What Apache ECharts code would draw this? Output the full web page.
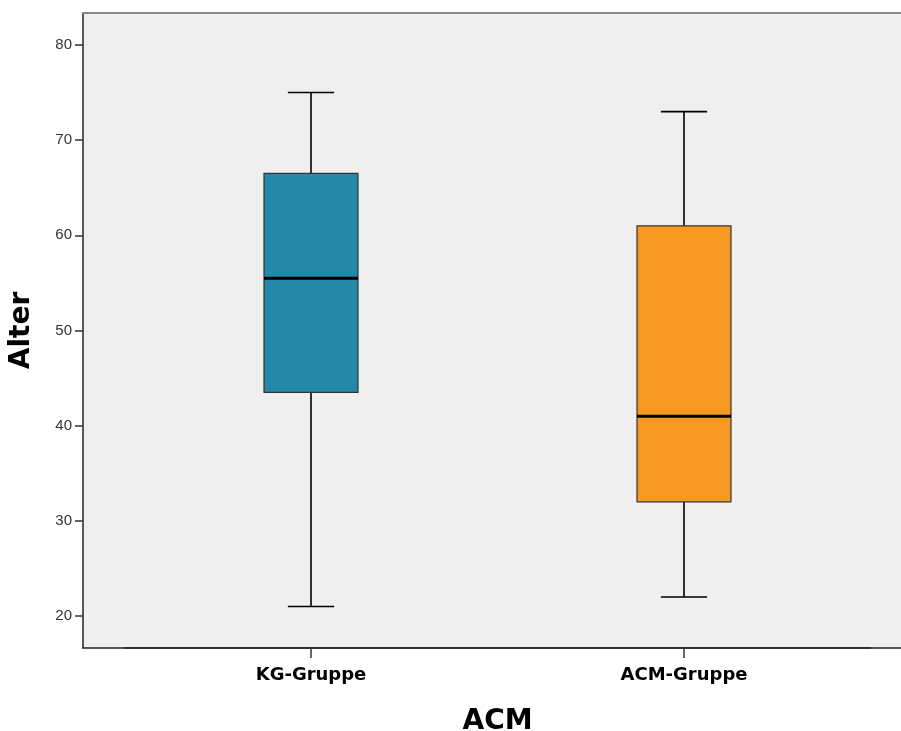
<!DOCTYPE html>
<html><head><meta charset="utf-8">
<script src="https://cdn.jsdelivr.net/npm/echarts@6/dist/echarts.min.js"></script>
<style>html,body{margin:0;padding:0;background:#fff}#c{width:901px;height:731px}</style>
</head><body><div id="c"></div>
<script>
const categories = ['KG-Gruppe', 'ACM-Gruppe'];
const whiskerLow = [21, 22];
const q1 = [43.5, 32];
const median = [55.5, 41];
const q3 = [66.5, 61];
const whiskerHigh = [75, 73];
const boxColors = ['#2389AA', '#F7991F'];
const yTicks = [20, 30, 40, 50, 60, 70, 80];
const yMin = 16.64, yMax = 83.36;

const data = categories.map((c, i) => [i, whiskerLow[i], q1[i], median[i], q3[i], whiskerHigh[i]]);

function renderItem(params, api) {
  const i = api.value(0);
  const band = api.size([1, 0])[0];
  const bw = band * 0.252;
  const cw = band * 0.124;
  const pLo = api.coord([i, api.value(1)]);
  const pQ1 = api.coord([i, api.value(2)]);
  const pMed = api.coord([i, api.value(3)]);
  const pQ3 = api.coord([i, api.value(4)]);
  const pHi = api.coord([i, api.value(5)]);
  const x = pMed[0];
  const ls = { stroke: '#000', lineWidth: 1.6 };
  return {
    type: 'group',
    children: [
      { type: 'line', shape: { x1: x, y1: pHi[1], x2: x, y2: pQ3[1] }, style: ls },
      { type: 'line', shape: { x1: x, y1: pQ1[1], x2: x, y2: pLo[1] }, style: ls },
      { type: 'line', shape: { x1: x - cw / 2, y1: pHi[1], x2: x + cw / 2, y2: pHi[1] }, style: ls },
      { type: 'line', shape: { x1: x - cw / 2, y1: pLo[1], x2: x + cw / 2, y2: pLo[1] }, style: ls },
      { type: 'rect', shape: { x: x - bw / 2, y: pQ3[1], width: bw, height: pQ1[1] - pQ3[1] },
        style: { fill: boxColors[i], stroke: '#333', lineWidth: 1.2 } },
      { type: 'line', shape: { x1: x - bw / 2, y1: pMed[1], x2: x + bw / 2, y2: pMed[1] },
        style: { stroke: '#000', lineWidth: 3 } }
    ]
  };
}

const chart = echarts.init(document.getElementById('c'), null, { renderer: 'canvas' });
chart.setOption({
  animation: false,
  backgroundColor: '#fff',
  grid: [
    { left: 83, right: -10, top: 13, bottom: 83, show: true, backgroundColor: '#efefef', borderWidth: 0, outerBoundsMode: 'none', containLabel: false },
    { left: 124.5, right: 30.5, top: 13, bottom: 83, outerBoundsMode: 'none', containLabel: false }
  ],
  xAxis: [
    { gridIndex: 0, type: 'value', position: 'bottom', min: 0, max: 1,
      axisLine: { show: true, lineStyle: { color: '#222', width: 1.5 } },
      axisTick: { show: false }, axisLabel: { show: false }, splitLine: { show: false } },
    { gridIndex: 0, type: 'value', position: 'top', min: 0, max: 1,
      axisLine: { show: true, lineStyle: { color: '#888', width: 2 } },
      axisTick: { show: false }, axisLabel: { show: false }, splitLine: { show: false } },
    { gridIndex: 1, type: 'category', data: categories, position: 'bottom',
      axisLine: { show: true, lineStyle: { color: '#222', width: 1.5 } },
      axisTick: { show: true, inside: false, alignWithLabel: true, length: 10, lineStyle: { color: '#333', width: 1.5 } },
      axisLabel: { margin: 18, fontFamily: 'DejaVu Sans', fontWeight: 'bold', fontSize: 18, color: '#000' },
      name: 'ACM', nameLocation: 'middle', nameGap: 60,
      nameTextStyle: { fontFamily: 'DejaVu Sans', fontWeight: 'bold', fontSize: 28, color: '#000' } }
  ],
  yAxis: [
    { gridIndex: 0, type: 'value', min: yMin, max: yMax,
      axisLine: { show: true, lineStyle: { color: '#222', width: 1.5 } },
      axisTick: { show: true, inside: false, length: 8, lineStyle: { color: '#333', width: 1.5 }, customValues: yTicks },
      axisLabel: { fontFamily: 'Liberation Sans', fontSize: 15, color: '#333', margin: 11, customValues: yTicks },
      splitLine: { show: false },
      name: 'Alter', nameLocation: 'middle', nameRotate: 90, nameGap: 47,
      nameTextStyle: { fontFamily: 'DejaVu Sans', fontWeight: 'bold', fontSize: 28, color: '#000' } },
    { gridIndex: 1, type: 'value', min: yMin, max: yMax, show: false }
  ],
  series: [{
    type: 'custom', xAxisIndex: 2, yAxisIndex: 1, renderItem: renderItem,
    encode: { x: 0, y: [1, 2, 3, 4, 5] }, data: data
  }]
});
</script></body></html>
